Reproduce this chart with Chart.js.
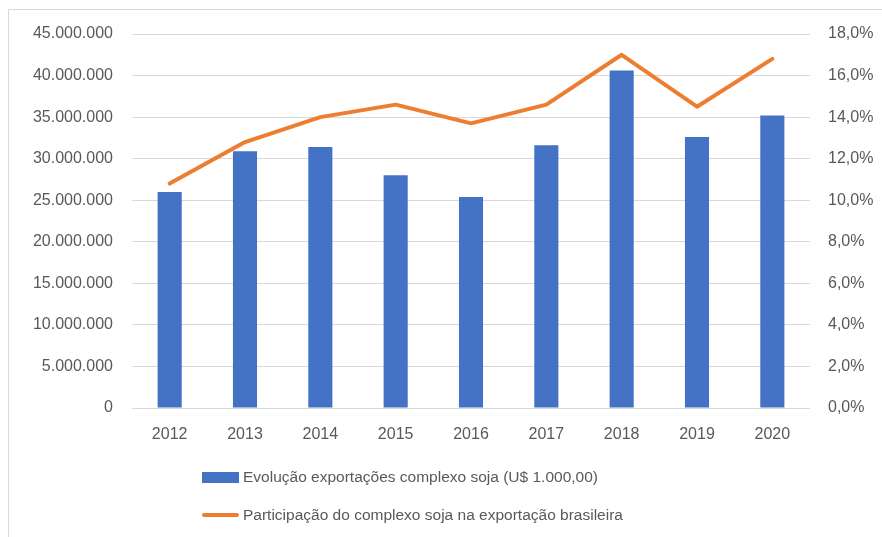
<!DOCTYPE html>
<html>
<head>
<meta charset="utf-8">
<script src="https://cdn.jsdelivr.net/npm/chart.js@4.4.1/dist/chart.umd.min.js"></script>
<style>
  body { margin: 0; background: #fff; font-family: "Liberation Sans", Arial, sans-serif; }
  #frame {
    position: absolute; left: 8px; top: 9px; width: 890px; height: 540px;
    border: 1px solid #d9d9d9; box-sizing: border-box;
  }
  #wrap { position: absolute; left: 0; top: 0; width: 882px; height: 460px; }
  #legend { position: absolute; left: 202px; top: 458px; color: #595959; font-size: 15.5px; }
  .item { display: flex; align-items: center; height: 38px; }
  .swatch { width: 37px; margin-right: 4px; }
</style>
</head>
<body>
<div id="frame"></div>
<div id="wrap"><canvas id="myChart"></canvas></div>
<div id="legend"></div>
<script>
const years = ['2012', '2013', '2014', '2015', '2016', '2017', '2018', '2019', '2020'];
const exportValues = [26000000, 30900000, 31400000, 28000000, 25400000, 31600000, 40600000, 32600000, 35200000];
const sharePercent = [10.8, 12.8, 14.0, 14.6, 13.7, 14.6, 17.0, 14.5, 16.8];
const leftTicks = { min: 0, max: 45000000, step: 5000000 };
const rightTicks = { min: 0, max: 18, step: 2 };

const blue = '#4472c4';
const orange = '#ed7d31';
const gray = '#595959';

const ctx = document.getElementById('myChart');

const chart = new Chart(ctx, {
  type: 'bar',
  data: {
    labels: years,
    datasets: [{
      type: 'bar',
      label: 'Evolução exportações complexo soja (U$ 1.000,00)',
      data: exportValues,
      backgroundColor: blue,
      yAxisID: 'y',
      categoryPercentage: 0.8,
      barPercentage: 0.4,
      order: 1
    }, {
      type: 'line',
      label: 'Participação do complexo soja na exportação brasileira',
      data: sharePercent,
      borderColor: orange,
      backgroundColor: orange,
      borderWidth: 4,
      pointRadius: 0,
      borderCapStyle: 'round',
      borderJoinStyle: 'round',
      tension: 0,
      yAxisID: 'y1',
      order: 0
    }]
  },
  options: {
    responsive: true,
    maintainAspectRatio: false,
    animation: false,
    layout: { padding: { top: 34, bottom: 12, left: 0, right: 0 } },
    plugins: {
      legend: { display: false },
      tooltip: { enabled: false }
    },
    scales: {
      x: {
        grid: { display: false },
        border: { display: false },
        ticks: { color: gray, font: { family: 'Liberation Sans', size: 16 }, padding: 9 },
        afterFit: (s) => { s.height = 40; }
      },
      y: {
        position: 'left',
        min: leftTicks.min,
        max: leftTicks.max,
        grid: { color: '#d9d9d9', drawTicks: false },
        border: { display: false },
        ticks: {
          stepSize: leftTicks.step,
          color: gray,
          padding: 19,
          font: { family: 'Liberation Sans', size: 16 },
          callback: (v) => v.toLocaleString('pt-BR')
        },
        afterFit: (s) => { s.width = 132; }
      },
      y1: {
        position: 'right',
        min: rightTicks.min,
        max: rightTicks.max,
        grid: { display: false, drawTicks: false },
        border: { display: false },
        ticks: {
          stepSize: rightTicks.step,
          color: gray,
          padding: 18,
          font: { family: 'Liberation Sans', size: 16 },
          callback: (v) => v.toFixed(1).replace('.', ',') + '%'
        },
        afterFit: (s) => { s.width = 72; }
      }
    }
  }
});

// legend in two rows, like the original
const legend = document.getElementById('legend');
chart.data.datasets.forEach((ds) => {
  const row = document.createElement('div');
  row.className = 'item';
  const sw = document.createElement('div');
  sw.className = 'swatch';
  if (ds.type === 'bar') {
    sw.style.height = '11px';
    sw.style.background = ds.backgroundColor;
  } else {
    sw.style.height = '4px';
    sw.style.borderRadius = '2px';
    sw.style.background = ds.borderColor;
  }
  const txt = document.createElement('span');
  txt.textContent = ds.label;
  row.appendChild(sw);
  row.appendChild(txt);
  legend.appendChild(row);
});
</script>
</body>
</html>
